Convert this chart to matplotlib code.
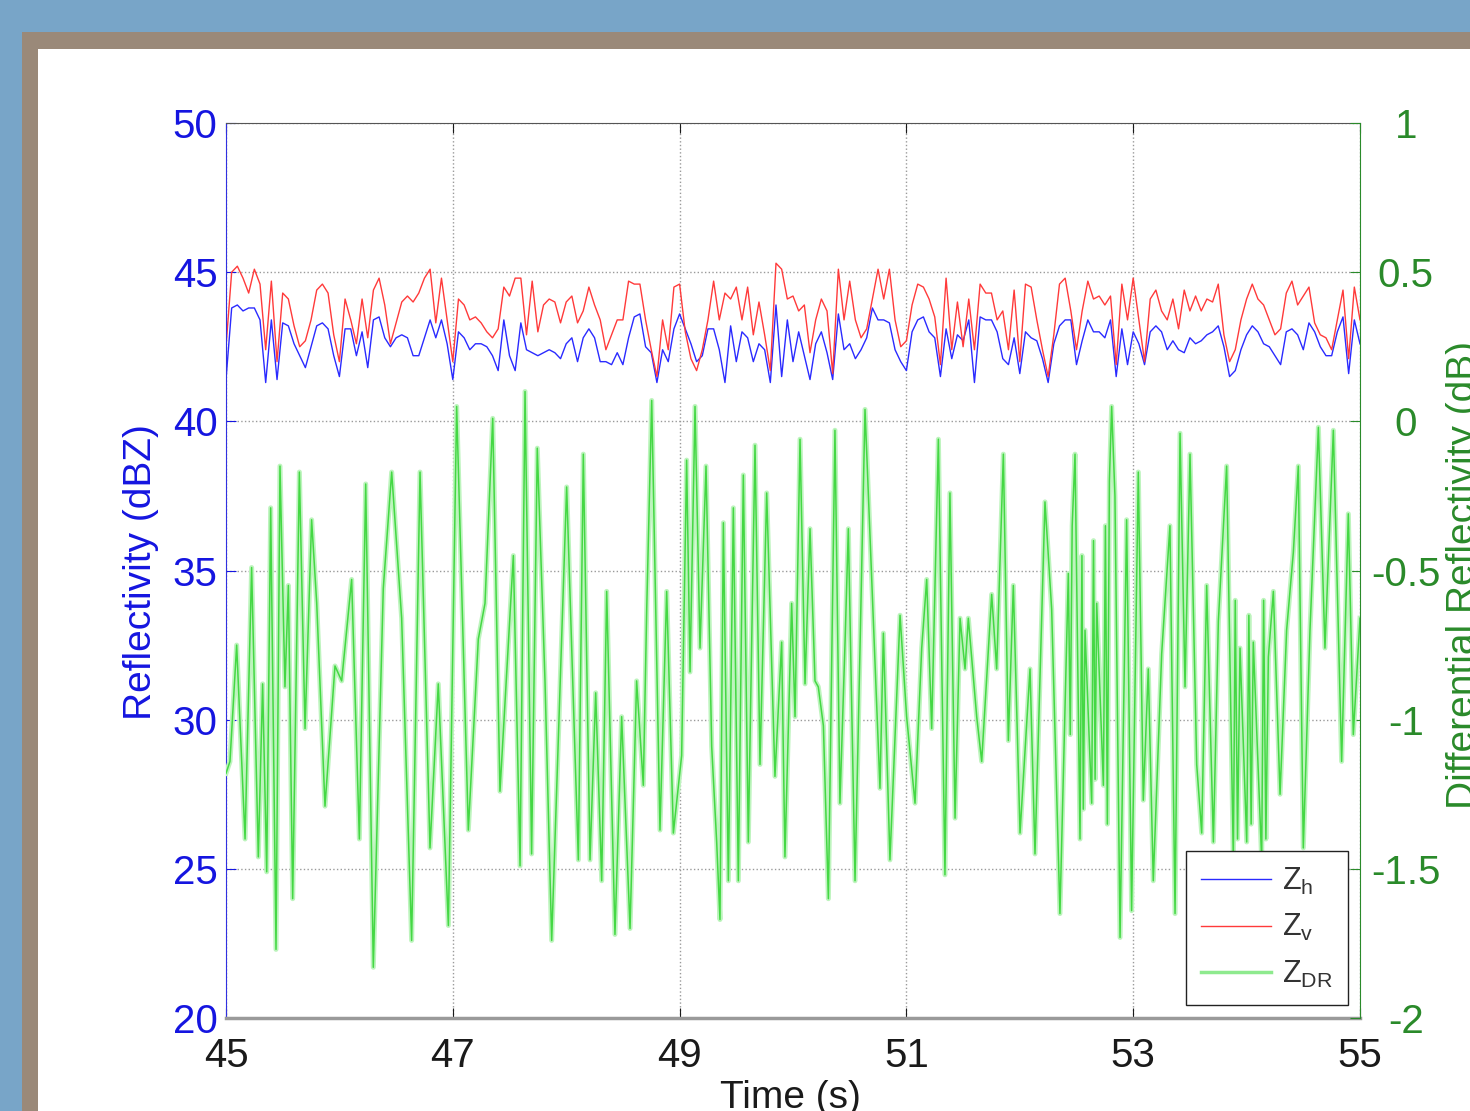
import numpy as np
import matplotlib
matplotlib.use("Agg")
import matplotlib.pyplot as plt
from matplotlib.patches import Rectangle
from matplotlib.lines import Line2D

plt.rcParams['font.family'] = ['Liberation Sans', 'DejaVu Sans']
plt.rcParams['mathtext.fontset'] = 'custom'
plt.rcParams['mathtext.rm'] = 'Liberation Sans'
plt.rcParams['mathtext.it'] = 'Liberation Sans'

# ---------------- data ----------------
x_ticks = [45, 47, 49, 51, 53, 55]
left_ticks = [20, 25, 30, 35, 40, 45, 50]
right_ticks = [-2, -1.5, -1, -0.5, 0, 0.5, 1]
right_tick_labels = ['-2', '-1.5', '-1', '-0.5', '0', '0.5', '1']

# Z_v (red), sampled every 0.05 s from 45 to 55 s
zv = [42.5, 45.0, 45.2, 44.8, 44.3, 45.1, 44.6, 42.4, 44.7, 42.0,
      44.3, 44.1, 43.2, 42.5, 42.7, 43.4, 44.4, 44.6, 44.3, 42.9,
      42.0, 44.1, 43.4, 42.6, 44.1, 42.8, 44.4, 44.8, 43.9, 42.6,
      43.3, 44.0, 44.2, 44.0, 44.3, 44.8, 45.1, 43.3, 44.8, 43.4,
      42.0, 44.1, 43.9, 43.4, 43.5, 43.3, 43.0, 42.8, 43.1, 44.5,
      44.2, 44.8, 44.8, 42.9, 44.7, 43.0, 43.9, 44.1, 44.0, 43.3,
      44.0, 44.2, 43.3, 43.7, 44.5, 43.9, 43.4, 42.4, 42.9, 43.4,
      43.4, 44.7, 44.6, 44.6, 43.4, 42.4, 41.5, 43.4, 42.4, 44.5,
      44.6, 43.0, 42.1, 41.7, 42.4, 43.4, 44.7, 43.4, 44.3, 44.1,
      44.5, 43.4, 44.5, 42.9, 44.0, 42.9, 41.7, 45.3, 45.1, 44.1,
      44.2, 43.7, 43.9, 42.3, 43.4, 44.1, 43.7, 41.6, 45.1, 43.4,
      44.7, 43.4, 42.8, 43.1, 44.1, 45.1, 44.1, 45.1, 43.4, 42.5,
      42.7, 43.9, 44.6, 44.5, 44.1, 43.5, 41.9, 44.8, 42.4, 44.0,
      42.5, 44.1, 42.4, 44.6, 44.3, 44.3, 43.4, 43.7, 42.4, 44.4,
      42.0, 44.6, 44.5, 43.4, 42.4, 41.5, 42.9, 44.6, 44.8, 43.7,
      42.4, 43.7, 44.7, 44.1, 44.2, 43.9, 44.2, 41.9, 44.6, 43.4,
      44.8, 43.4, 42.0, 44.1, 44.4, 43.7, 43.4, 44.1, 43.1, 44.4,
      43.7, 44.2, 43.7, 44.1, 44.0, 44.6, 42.9, 42.0, 42.4, 43.4,
      44.1, 44.6, 44.1, 43.9, 43.4, 42.9, 43.1, 44.3, 44.7, 43.9,
      44.2, 44.5, 43.3, 42.9, 42.8, 42.4, 43.4, 44.4, 42.1, 44.5,
      43.4]

# Z_h (blue), sampled every 0.05 s from 45 to 55 s
zh = [41.4, 43.8, 43.9, 43.7, 43.8, 43.8, 43.4, 41.3, 43.4, 41.4,
      43.3, 43.2, 42.6, 42.2, 41.8, 42.5, 43.2, 43.3, 43.1, 42.2,
      41.5, 43.1, 43.1, 42.2, 43.0, 41.8, 43.4, 43.5, 42.8, 42.5,
      42.8, 42.9, 42.8, 42.2, 42.2, 42.8, 43.4, 42.8, 43.4, 42.6,
      41.4, 43.0, 42.8, 42.4, 42.6, 42.6, 42.5, 42.2, 41.7, 43.4,
      42.2, 41.7, 43.3, 42.4, 42.3, 42.2, 42.3, 42.4, 42.3, 42.1,
      42.6, 42.8, 42.0, 42.8, 43.1, 42.8, 42.0, 42.0, 41.9, 42.3,
      41.9, 42.8, 43.5, 43.6, 42.5, 42.3, 41.3, 42.4, 42.0, 43.1,
      43.6, 43.1, 42.6, 42.0, 42.2, 43.1, 43.1, 42.4, 41.3, 43.2,
      42.0, 43.0, 42.8, 42.0, 42.6, 42.4, 41.3, 43.9, 41.5, 43.4,
      42.0, 43.0, 42.2, 41.4, 42.6, 43.0, 42.3, 41.4, 43.6, 42.4,
      42.6, 42.1, 42.4, 42.8, 43.8, 43.4, 43.4, 43.3, 42.4, 42.0,
      41.7, 43.0, 43.4, 43.5, 43.0, 42.8, 41.5, 43.1, 42.1, 42.9,
      42.7, 43.4, 41.3, 43.5, 43.4, 43.4, 43.0, 42.1, 41.9, 42.8,
      41.6, 43.0, 42.8, 42.7, 42.1, 41.3, 42.6, 43.2, 43.4, 43.4,
      41.9, 42.7, 43.4, 43.0, 43.0, 42.8, 43.4, 41.5, 43.1, 41.9,
      43.0, 42.6, 41.9, 43.0, 43.2, 43.0, 42.4, 42.7, 42.4, 42.3,
      42.8, 42.6, 42.7, 42.9, 43.0, 43.2, 42.5, 41.5, 41.7, 42.4,
      42.9, 43.2, 43.0, 42.6, 42.5, 42.2, 41.9, 43.0, 43.1, 42.9,
      42.4, 43.3, 43.0, 42.5, 42.2, 42.2, 43.0, 43.5, 41.6, 43.4,
      42.6]

# Z_DR (green): times (s) and values (dB) of the traced turning points
zdr_t = [45.000, 45.035, 45.094, 45.168, 45.226, 45.285, 45.323, 45.359, 45.394, 45.441,
         45.476, 45.520, 45.550, 45.588, 45.647, 45.697, 45.755, 45.800, 45.873, 45.961,
         46.020, 46.108, 46.176, 46.232, 46.299, 46.387, 46.461, 46.549, 46.637, 46.711,
         46.799, 46.872, 46.961, 47.034, 47.137, 47.225, 47.284, 47.352, 47.416, 47.534,
         47.593, 47.637, 47.695, 47.745, 47.813, 47.872, 48.004, 48.107, 48.151, 48.210,
         48.260, 48.313, 48.357, 48.430, 48.489, 48.563, 48.621, 48.680, 48.710, 48.754,
         48.827, 48.886, 48.945, 49.018, 49.062, 49.092, 49.136, 49.180, 49.233, 49.283,
         49.327, 49.356, 49.386, 49.430, 49.474, 49.518, 49.562, 49.606, 49.665, 49.709,
         49.768, 49.841, 49.900, 49.929, 49.988, 50.018, 50.062, 50.106, 50.150, 50.194,
         50.223, 50.268, 50.312, 50.370, 50.414, 50.459, 50.488, 50.547, 50.591, 50.635,
         50.694, 50.767, 50.797, 50.855, 50.944, 51.002, 51.076, 51.135, 51.179, 51.223,
         51.282, 51.340, 51.384, 51.429, 51.473, 51.517, 51.546, 51.620, 51.664, 51.752,
         51.796, 51.855, 51.899, 51.943, 52.002, 52.090, 52.134, 52.222, 52.281, 52.354,
         52.428, 52.445, 52.462, 52.487, 52.531, 52.548, 52.560, 52.575, 52.634, 52.650,
         52.664, 52.678, 52.737, 52.755, 52.772, 52.790, 52.810, 52.839, 52.884, 52.942,
         52.986, 53.045, 53.089, 53.133, 53.177, 53.251, 53.324, 53.369, 53.413, 53.457,
         53.501, 53.560, 53.604, 53.648, 53.707, 53.751, 53.824, 53.883, 53.900, 53.920,
         53.942, 54.001, 54.020, 54.040, 54.059, 54.133, 54.150, 54.170, 54.192, 54.236,
         54.295, 54.353, 54.412, 54.456, 54.500, 54.559, 54.633, 54.691, 54.765, 54.838,
         54.897, 54.941, 55.000]
zdr = [-1.18, -1.14, -0.75, -1.40, -0.49, -1.46, -0.88, -1.51, -0.29, -1.77,
       -0.15, -0.89, -0.55, -1.60, -0.17, -1.03, -0.33, -0.61, -1.29, -0.82,
       -0.87, -0.53, -1.40, -0.21, -1.83, -0.56, -0.17, -0.66, -1.74, -0.17,
       -1.43, -0.88, -1.69, 0.05, -1.37, -0.73, -0.61, 0.01, -1.24, -0.45,
       -1.49, 0.10, -1.45, -0.09, -0.87, -1.74, -0.22, -1.47, -0.11, -1.47,
       -0.91, -1.54, -0.57, -1.72, -0.99, -1.70, -0.87, -1.22, -0.63, 0.07,
       -1.37, -0.57, -1.38, -1.12, -0.13, -0.84, 0.05, -0.76, -0.15, -1.09,
       -1.41, -1.67, -0.34, -1.54, -0.29, -1.54, -0.18, -1.41, -0.08, -1.15,
       -0.24, -1.19, -0.74, -1.46, -0.61, -0.99, -0.06, -0.88, -0.36, -0.87,
       -0.89, -1.02, -1.60, -0.03, -1.28, -0.74, -0.36, -1.54, -0.76, 0.04,
       -0.53, -1.23, -0.71, -1.47, -0.65, -0.99, -1.28, -0.76, -0.53, -1.03,
       -0.06, -1.52, -0.24, -1.33, -0.66, -0.83, -0.66, -0.99, -1.14, -0.58,
       -0.83, -0.11, -1.07, -0.55, -1.38, -0.83, -1.45, -0.27, -0.63, -1.65,
       -0.51, -1.05, -0.35, -0.11, -1.40, -0.45, -1.30, -0.70, -1.28, -0.40,
       -1.20, -0.61, -1.22, -0.35, -1.35, -0.20, 0.05, -0.25, -1.73, -0.33,
       -1.64, -0.17, -1.27, -0.83, -1.54, -0.78, -0.35, -1.65, -0.04, -0.89,
       -0.11, -1.15, -1.38, -0.55, -1.41, -0.67, -0.15, -1.47, -0.60, -1.40,
       -0.76, -1.41, -0.65, -1.35, -0.74, -1.47, -0.60, -1.40, -0.79, -0.57,
       -1.25, -0.70, -0.44, -0.15, -1.43, -0.70, -0.02, -0.76, -0.03, -1.14,
       -0.31, -1.05, -0.66]

labels = ['Z$_\\mathregular{h}$', 'Z$_\\mathregular{v}$', 'Z$_\\mathregular{DR}$']

# ---------------- figure ----------------
W, H = 1470, 1111
fig = plt.figure(figsize=(W / 100, H / 100), dpi=100)
fig.patch.set_facecolor('#78a5c8')

# slide frame
fig.add_artist(Rectangle((22 / W, 0), 1, 1 - 32 / H, transform=fig.transFigure,
                         facecolor='#9a8979', edgecolor='none', zorder=0))
fig.add_artist(Rectangle((38 / W, 0), 1, 1 - 49 / H, transform=fig.transFigure,
                         facecolor='white', edgecolor='none', zorder=0))

ax = fig.add_axes([226 / W, 93 / H, 1134 / W, 895 / H])
ax.set_facecolor('white')
ax2 = ax.twinx()

t_v = np.linspace(45, 55, len(zv))
t_h = np.linspace(45, 55, len(zh))

l1, = ax.plot(t_h, zh, color='#2a2aff', lw=1.0)
l2, = ax.plot(t_v, zv, color='#ff3a3a', lw=1.0)
ax2.plot(zdr_t, zdr, color='#bdf4bd', lw=3.6, solid_joinstyle='round')
l3, = ax2.plot(zdr_t, zdr, color='#44d844', lw=1.1)

ax.set_xlim(45, 55)
ax.set_ylim(20, 50)
ax2.set_ylim(-2, 1)

ax.set_xticks(x_ticks)
ax.set_xticklabels([str(v) for v in x_ticks])
ax.set_yticks(left_ticks)
ax.set_yticklabels([str(v) for v in left_ticks])
ax2.set_yticks(right_ticks)
ax2.set_yticklabels(right_tick_labels)

ax.grid(True, linestyle=':', color='#9a9a9a', lw=1.0)

ax.tick_params(axis='x', direction='in', top=True, length=7, pad=14,
               labelsize=29, colors='#1a1a1a')
ax.tick_params(axis='y', direction='in', length=7, pad=6,
               labelsize=29, colors='#1515e0')
ax2.tick_params(axis='y', direction='in', length=7, pad=33,
                labelsize=29, colors='#2a8a2a')
for lab in ax2.get_yticklabels():
    lab.set_horizontalalignment('center')

ax.spines['left'].set_color('#3030e0')
ax.spines['top'].set_color('#555555')
ax.spines['bottom'].set_color('#9a9a9a')
ax.spines['bottom'].set_linewidth(2.5)
ax.spines['right'].set_visible(False)
for s in ['left', 'top', 'bottom']:
    ax2.spines[s].set_visible(False)
ax2.spines['right'].set_color('#2a8a2a')

fig.text(141 / W, 1 - 572 / H, 'Reflectivity (dBZ)', rotation=90, ha='center',
         va='center', fontsize=28, color='#1515e0')
fig.text(1446 / W, 1 - 575 / H, 'Differential Reflectivity (dB)', rotation=90,
         ha='left', va='center', fontsize=28, color='#2a8a2a')
fig.text(790 / W, 1 - 1080 / H, 'Time (s)', ha='center', va='top',
         fontsize=28, color='#1a1a1a')

leg = ax2.legend([l1, l2, Line2D([], [], color='#8eea8e', lw=2.5)], labels,
                 loc='lower right', bbox_to_anchor=(1 - 12 / 1134, 13 / 895),
                 fontsize=22, frameon=True, fancybox=False, framealpha=1,
                 edgecolor='#222222', handlelength=2.3, handletextpad=0.35,
                 labelspacing=0.5, borderpad=0.5, borderaxespad=0)
leg.get_frame().set_linewidth(1.0)
for txt in leg.get_texts():
    txt.set_color('#333333')

fig.savefig('out.png', dpi=100, facecolor=fig.get_facecolor())
